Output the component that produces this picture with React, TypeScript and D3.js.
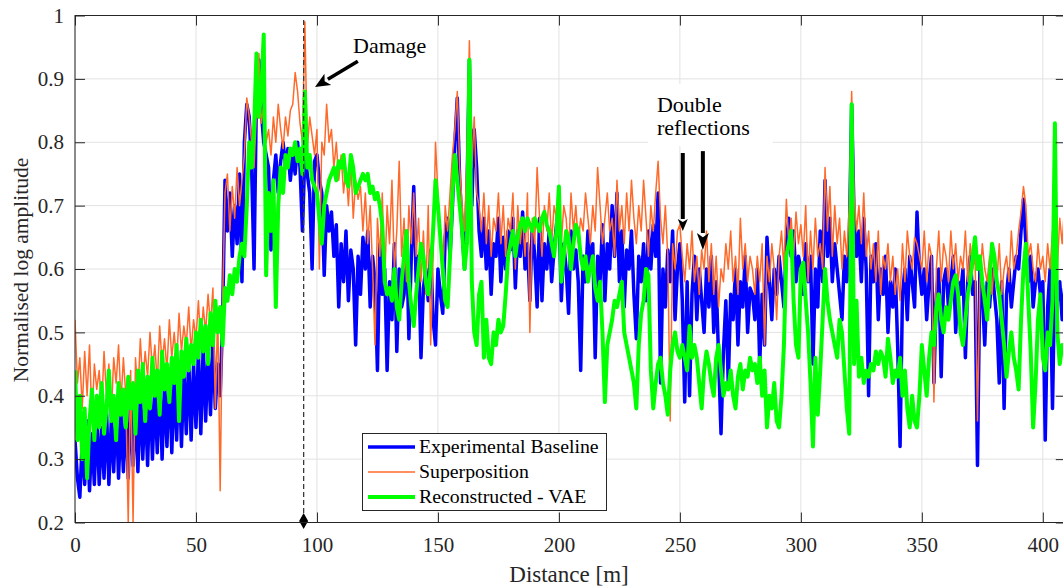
import React, { useEffect, useRef } from 'react';
import * as d3 from 'd3';

// values, in hundredths, one per metre (0..409 m)
const baseline = [
  33,27,24,33,26,36,25,34,26,37, 26,35,27,38,26,36,28,39,27,37, 28,38,27,40,29,39,28,41,30,40,
  29,42,30,41,31,43,30,42,32,44, 31,43,33,45,32,44,34,46,33,45, 35,47,34,48,36,47,37,49,38,45,
  40,52,74,66,72,62,70,64,75,58, 80,86,84,76,60,88,93,85,80,78, 76,63,74,78,72,77,80,76,79,74,
  78,75,80,76,66,78,75,72,60,77, 78,74,72,59,70,66,69,62,67,54, 64,58,66,55,63,60,48,62,56,65,
  60,66,54,62,58,44,64,56,60,44, 58,52,64,47,60,54,56,66,49,62, 73,58,62,46,57,60,55,63,52,48,
  60,56,53,65,68,62,70,80,87,74, 66,60,72,93,70,82,76,66,62,68, 60,66,56,64,62,68,58,65,60,66,
  63,68,57,66,62,69,60,64,55,67, 62,54,68,55,64,60,66,58,63,67, 70,55,64,60,53,66,60,63,58,44,
  62,58,66,60,64,46,62,58,67,55, 64,60,70,62,72,58,66,54,63,60, 66,56,49,62,58,64,55,66,60,67,
  62,72,42,60,54,63,58,66,52,60, 64,55,39,58,40,56,62,52,60,55, 50,60,54,62,50,58,46,34,47,55,
  42,56,52,60,48,58,54,62,50,57, 56,52,60,45,56,48,65,58,52,60, 56,62,58,54,64,68,62,66,58,62,
  60,56,64,58,62,45,60,54,66,58, 74,62,68,58,64,60,56,52,62,58, 64,86,68,62,66,58,68,60,40,62,
  58,64,52,60,56,62,50,58,54,60, 48,32,56,60,52,62,58,54,69,60, 56,60,52,58,62,42,56,60,43,58,
  60,54,58,62,50,58,56,60,46,58, 62,56,58,29,60,56,48,58,54,60, 56,52,42,58,38,56,60,54,58,62,
  60,66,71,64,58,62,54,58,60,56, 58,33,54,60,38,60,55,58,52,57,
];

const superposition = [
  52,42,46,38,47,40,48,36,45,41, 44,38,47,40,45,37,46,42,48,39, 46,40,20,44,20,46,40,49,42,47,
  43,50,44,48,42,51,45,49,44,52, 46,50,45,53,47,51,48,54,47,52, 49,55,48,54,50,56,51,57,38,53,
  25,55,72,75,66,73,68,76,70,74, 78,87,84,80,76,85,94,83,86,80, 82,78,84,80,86,82,79,84,81,85,
  86,91,88,83,80,99,79,84,81,78, 82,60,80,78,86,80,82,76,80,74, 78,72,76,70,77,68,74,71,73,66,
  72,64,70,60,48,68,62,72,58,70, 64,74,60,66,77,62,68,58,70,64, 72,62,68,58,66,56,70,48,62,80,
  72,64,58,70,66,72,78,82,88,76, 70,66,78,96,76,84,72,70,66,72, 64,70,62,68,66,72,64,70,62,68,
  66,72,60,70,64,68,62,72,50,68, 64,76,68,62,70,66,72,64,70,68, 73,64,70,68,62,72,66,70,64,68,
  66,72,68,64,70,66,76,70,64,68, 72,66,68,62,74,66,70,64,72,66, 74,68,64,70,66,74,68,62,70,66,
  72,77,68,64,70,62,36,64,60,66, 67,62,58,64,60,66,58,62,56,63, 60,66,58,64,56,62,54,60,58,64,
  60,66,58,62,56,68,60,64,58,62, 60,56,62,58,64,48,62,58,64,60, 52,62,66,60,71,64,68,62,69,64,
  67,62,70,58,66,60,68,62,64,60, 76,66,73,62,70,64,68,60,66,62, 70,88,72,66,70,64,72,62,66,60,
  64,58,66,56,62,60,64,58,62,56, 60,55,64,58,66,62,60,65,64,62, 60,66,58,64,62,39,60,66,58,64,
  62,58,66,60,64,58,62,60,66,58, 64,60,62,36,58,64,60,58,62,56, 62,58,64,56,60,62,58,66,60,62,
  66,69,73,70,62,64,60,58,64,60, 62,58,64,60,66,62,60,68,64,70,
];

const reconstructed = [
  44,33,40,30,38,27,36,41,33,40, 35,42,34,38,44,36,40,33,42,37, 41,35,43,38,42,34,44,39,45,36,
  43,38,46,40,44,37,47,41,45,39, 46,42,48,36,47,43,49,44,48,45, 50,46,52,47,51,45,53,48,55,50,
  54,48,57,55,59,56,60,58,62,64, 62,70,80,76,82,94,84,88,97,59, 72,66,74,54,70,76,72,78,76,79,
  78,80,77,79,75,88,76,78,74,73, 72,68,64,70,72,74,75,76,74,77, 76,78,74,73,78,76,72,73,74,75,
  74,75,72,73,71,72,70,67,58,56, 57,55,60,54,52,58,62,66,58,54, 51,56,60,64,62,58,56,60,66,74,
  70,65,60,55,54,62,72,78,74,70, 66,60,64,93,58,50,48,56,58,46, 52,46,45,50,48,52,50,51,56,62,
  64,66,62,65,67,68,66,68,67,66, 68,67,66,68,69,67,66,64,62,66, 73,58,62,66,65,60,64,67,66,62,
  60,62,58,60,62,57,55,58,50,39, 48,50,52,55,54,56,58,50,48,46, 44,42,38,48,53,55,60,59,44,38,
  42,45,46,42,40,37,44,48,50,47, 46,48,46,44,51,46,48,46,42,38, 44,47,45,42,40,46,48,44,40,42,
  41,44,40,38,43,45,41,44,43,46, 44,45,42,46,40,44,35,40,38,42, 36,35,40,48,62,64,66,55,48,46,
  60,61,55,50,42,32,46,37,44,52, 60,55,52,50,48,46,52,50,44,38, 34,86,45,55,43,46,42,44,43,45,
  44,47,45,47,46,43,49,46,42,44, 43,46,40,44,38,35,40,36,35,40, 48,44,40,46,50,48,54,56,52,50,
  54,52,55,58,59,56,50,48,52,56, 58,62,65,60,62,58,55,52,58,64, 62,58,56,52,48,43,47,50,46,44,
  41,52,60,64,55,47,35,42,52,56, 46,44,50,48,55,83,50,45,48,47,
];

const seriesNames = ['Experimental Baseline', 'Superposition', 'Reconstructed - VAE'];
const seriesColors = ['#0000ff', '#ff6a2a', '#00ff00'];
const seriesWidths = [3.5, 1.5, 4];

const xTicks = [0, 50, 100, 150, 200, 250, 300, 350, 400];
const yTicks = [0.2, 0.3, 0.4, 0.5, 0.6, 0.7, 0.8, 0.9, 1];

const damageAt = 94.5;

const FONT = '"Liberation Serif", "Times New Roman", serif';

const App = () => {
  const svgRef = useRef<SVGSVGElement>(null);

  useEffect(() => {
    const svg = d3.select(svgRef.current);
    svg.selectAll('*').remove();

    const left = 75, right = 1065.8, top = 15.5, bottom = 522.5;
    const x = d3.scaleLinear().domain([0, 409.5]).range([left, right]);
    const y = d3.scaleLinear().domain([0.2, 1]).range([bottom, top]);
    const ink = '#262626';

    svg.append('rect').attr('width', 1063).attr('height', 588).attr('fill', '#fff');

    // grid
    const grid = svg.append('g').attr('stroke', '#e2e2e2').attr('stroke-width', 1);
    grid.selectAll('.gx').data(xTicks).enter().append('line')
      .attr('x1', d => x(d)).attr('x2', d => x(d)).attr('y1', top).attr('y2', bottom);
    grid.selectAll('.gy').data(yTicks).enter().append('line')
      .attr('x1', left).attr('x2', right).attr('y1', d => y(d)).attr('y2', d => y(d));

    // data lines
    svg.append('defs').append('clipPath').attr('id', 'plotclip')
      .append('rect').attr('x', left).attr('y', top).attr('width', right - left).attr('height', bottom - top);

    const line = d3.line<number>()
      .x((_, i) => x(i))
      .y(d => y(d / 100));

    const allSeries = [baseline, superposition, reconstructed];
    const plot = svg.append('g').attr('clip-path', 'url(#plotclip)');
    allSeries.forEach((s, k) => {
      plot.append('path')
        .datum(s)
        .attr('d', line)
        .attr('fill', 'none')
        .attr('stroke', seriesColors[k])
        .attr('stroke-width', seriesWidths[k])
        .attr('stroke-linejoin', 'round');
    });

    // damage marker
    svg.append('line')
      .attr('x1', x(damageAt)).attr('x2', x(damageAt))
      .attr('y1', y(0.993)).attr('y2', y(0.2))
      .attr('stroke', '#3a3a3a').attr('stroke-width', 1.3).attr('stroke-dasharray', '5,3');
    const dx = x(damageAt), dy = y(0.2) - 1.5;
    svg.append('path')
      .attr('d', `M${dx},${dy - 8}L${dx + 4.5},${dy}L${dx},${dy + 8}L${dx - 4.5},${dy}Z`)
      .attr('fill', '#000');

    // axes
    const styleAxis = (g: any) => {
      g.select('.domain').remove();
      g.selectAll('line').attr('stroke', ink).attr('stroke-width', 1);
      g.selectAll('text').attr('fill', ink).style('font-family', FONT).style('font-size', '21px');
    };
    svg.append('g').attr('transform', `translate(0,${bottom})`)
      .call(d3.axisBottom(x).tickValues(xTicks).tickSizeInner(-10).tickSizeOuter(0).tickPadding(15).tickFormat(d3.format('d')))
      .call(styleAxis);
    svg.append('g').attr('transform', `translate(0,${top})`)
      .call(d3.axisTop(x).tickValues(xTicks).tickSizeInner(-10).tickSizeOuter(0).tickFormat(() => ''))
      .call(styleAxis);
    svg.append('g').attr('transform', `translate(${left},0)`)
      .call(d3.axisLeft(y).tickValues(yTicks).tickSizeInner(-10).tickSizeOuter(0).tickPadding(11)
        .tickFormat(d => (+d === 1 ? '1' : d3.format('.1f')(+d))))
      .call(styleAxis);
    svg.append('g').attr('transform', `translate(${right},0)`)
      .call(d3.axisRight(y).tickValues(yTicks).tickSizeInner(-10).tickSizeOuter(0).tickFormat(() => ''))
      .call(styleAxis);
    svg.append('rect')
      .attr('x', left).attr('y', top).attr('width', right - left).attr('height', bottom - top)
      .attr('fill', 'none').attr('stroke', ink).attr('stroke-width', 1);

    // axis titles
    svg.append('text')
      .attr('x', 569).attr('y', 582).attr('text-anchor', 'middle')
      .attr('fill', ink).style('font-family', FONT).style('font-size', '23px')
      .text('Distance [m]');
    svg.append('text')
      .attr('transform', 'translate(28,270) rotate(-90)').attr('text-anchor', 'middle')
      .attr('fill', ink).style('font-family', FONT).style('font-size', '21.5px')
      .text('Normalised log amplitude');

    // annotations
    const arrow = (x1: number, y1: number, x2: number, y2: number, w: number, head: number, hw: number) => {
      const ang = Math.atan2(y2 - y1, x2 - x1);
      const bx = x2 - head * Math.cos(ang), by = y2 - head * Math.sin(ang);
      const px = -Math.sin(ang) * hw, py = Math.cos(ang) * hw;
      svg.append('line').attr('x1', x1).attr('y1', y1).attr('x2', bx).attr('y2', by)
        .attr('stroke', '#000').attr('stroke-width', w);
      svg.append('path')
        .attr('d', `M${x2},${y2}L${bx + px},${by + py}L${bx + head * 0.25 * Math.cos(ang)},${by + head * 0.25 * Math.sin(ang)}L${bx - px},${by - py}Z`)
        .attr('fill', '#000');
    };

    svg.append('text')
      .attr('x', x(114.9)).attr('y', y(0.941))
      .attr('fill', '#000').style('font-family', FONT).style('font-size', '22px')
      .text('Damage');
    arrow(x(116.9), y(0.928), x(99.2), y(0.887), 3.5, 15, 6.5);

    svg.append('rect')
      .attr('x', x(236.8)).attr('y', y(0.892))
      .attr('width', x(288.4) - x(236.8)).attr('height', y(0.794) - y(0.892))
      .attr('fill', '#fff');
    const dr = svg.append('text')
      .attr('fill', '#000').style('font-family', FONT).style('font-size', '22px');
    dr.append('tspan').attr('x', x(240.5)).attr('y', y(0.848)).text('Double');
    dr.append('tspan').attr('x', x(240.5)).attr('y', y(0.811)).text('reflections');
    arrow(x(251.2), y(0.783), x(251.2), y(0.66), 4, 12, 5);
    arrow(x(259.5), y(0.786), x(259.5), y(0.63), 4, 17, 6);

    // legend
    const lg = svg.append('g');
    lg.append('rect').attr('x', 362.5).attr('y', 433.5).attr('width', 244).attr('height', 77)
      .attr('fill', '#fff').attr('stroke', ink).attr('stroke-width', 1);
    seriesNames.forEach((name, k) => {
      const yy = 447 + k * 25;
      lg.append('line').attr('x1', 368).attr('x2', 415).attr('y1', yy).attr('y2', yy)
        .attr('stroke', seriesColors[k]).attr('stroke-width', seriesWidths[k]);
      lg.append('text').attr('x', 419).attr('y', yy + 6)
        .attr('fill', '#000').style('font-family', FONT).style('font-size', '19.8px')
        .text(name);
    });
  }, []);

  return (
    <svg ref={svgRef} width={1063} height={588}
      style={{ position: 'absolute', left: 0, top: 0, display: 'block' }} />
  );
};

export default App;
